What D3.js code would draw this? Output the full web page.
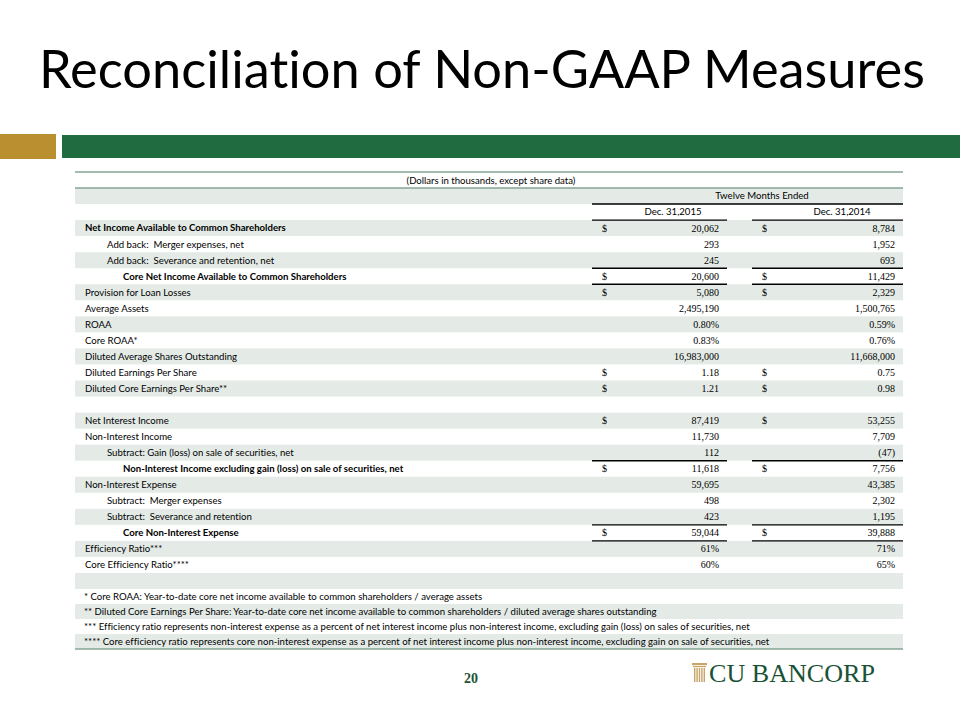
<!DOCTYPE html>
<html>
<head>
<meta charset="utf-8">
<script src="https://cdn.jsdelivr.net/npm/d3@7"></script>
<style>
  body { margin: 0; background: #fff; }
  svg { display: block; }
  text { font-variant-ligatures: none; white-space: pre; }
</style>
</head>
<body>
<div class="svg-mount"></div>
<script>
// table content
const title = "Reconciliation of Non-GAAP Measures";
const unitsNote = "(Dollars in thousands, except share data)";
const periodHeader = "Twelve Months Ended";
const columns = ["Dec. 31,2015", "Dec. 31,2014"];

const rowLabels = [
  "",
  "",
  "Net Income Available to Common Shareholders",
  "Add back:  Merger expenses, net",
  "Add back:  Severance and retention, net",
  "Core Net Income Available to Common Shareholders",
  "Provision for Loan Losses",
  "Average Assets",
  "ROAA",
  "Core ROAA*",
  "Diluted Average Shares Outstanding",
  "Diluted Earnings Per Share",
  "Diluted Core Earnings Per Share**",
  "",
  "Net Interest Income",
  "Non-Interest Income",
  "Subtract: Gain (loss) on sale of securities, net",
  "Non-Interest Income excluding gain (loss) on sale of securities, net",
  "Non-Interest Expense",
  "Subtract:  Merger expenses",
  "Subtract:  Severance and retention",
  "Core Non-Interest Expense",
  "Efficiency Ratio***",
  "Core Efficiency Ratio****",
  "",
];
const values2015 = ["", "", "20,062", "293", "245", "20,600", "5,080", "2,495,190", "0.80%", "0.83%",
  "16,983,000", "1.18", "1.21", "", "87,419", "11,730", "112", "11,618", "59,695", "498", "423",
  "59,044", "61%", "60%", ""];
const values2014 = ["", "", "8,784", "1,952", "693", "11,429", "2,329", "1,500,765", "0.59%", "0.76%",
  "11,668,000", "0.75", "0.98", "", "53,255", "7,709", "(47)", "7,756", "43,385", "2,302", "1,195",
  "39,888", "71%", "65%", ""];
const dollarRows = [2, 5, 6, 11, 12, 14, 17, 21];
const totalRows = [1, 4, 5, 16, 20, 21];

const footnotes = [
  "* Core ROAA: Year-to-date core net income available to common shareholders / average assets",
  "** Diluted Core Earnings Per Share: Year-to-date core net income available to common shareholders / diluted average shares outstanding",
  "*** Efficiency ratio represents non-interest expense as a percent of net interest income plus non-interest income, excluding gain (loss) on sales of securities, net",
  "**** Core efficiency ratio represents core non-interest expense as a percent of net interest income plus non-interest income, excluding gain on sale of securities, net",
];
const pageNumber = "20";
const logoText = "CU BANCORP";

// label layout (indent level, bold)
const rowIndent = [0, 0, 0, 1, 1, 2, 0, 0, 0, 0, 0, 0, 0, 0, 0, 0, 1, 2, 0, 1, 1, 2, 0, 0, 0];
const boldRows = [2, 5, 17, 21];

const width = 960;
const height = 720;
const green = "#206b40";
const dark = "#1a5236";
const shade = "#e4ebe7";
const rule = "#86a596";
const sans = "'Lato', 'Open Sans', sans-serif";
const serif = "'Liberation Serif', 'Times New Roman', serif";
const labelSize = 9.6;

const svg = d3
  .select(".svg-mount")
  .append("svg")
  .attr("width", width)
  .attr("height", height);

// title, fitted to its width on the slide
const titleText = svg
  .append("text")
  .attr("x", 39)
  .attr("y", 88)
  .attr("font-family", "'Lato', sans-serif")
  .attr("font-size", 52)
  .attr("fill", "#000")
  .text(title);
const tw = titleText.node().getComputedTextLength();
titleText.attr("font-size", (52 * 886) / tw);

// header bars
svg.append("rect").attr("x", 0).attr("y", 134).attr("width", 56).attr("height", 25).attr("fill", "#b98f30");
svg.append("rect").attr("x", 62).attr("y", 135).attr("width", 898).attr("height", 23).attr("fill", green);

// scales
const tableLeft = 75;
const tableRight = 903;
const yMain = d3.scaleBand().domain(d3.range(rowLabels.length)).range([188, 589]);
const yFoot = d3.scaleBand().domain(d3.range(footnotes.length)).range([589, 649]);
const xLabel = d3.scaleOrdinal().domain([0, 1, 2]).range([85, 107, 123]);
const colLeft = d3.scaleOrdinal().domain(columns).range([592, 752]);
const colRight = d3.scaleOrdinal().domain(columns).range([727, 903]);
const colHeadX = d3.scaleOrdinal().domain(columns).range([673, 842]);

const g = svg.append("g").attr("class", "table");

// shaded rows (even rows)
g.selectAll("rect.main-shade")
  .data(d3.range(rowLabels.length).filter((i) => i % 2 === 0))
  .join("rect")
  .attr("class", "main-shade")
  .attr("x", tableLeft)
  .attr("y", (i) => yMain(i))
  .attr("width", tableRight - tableLeft)
  .attr("height", yMain.bandwidth())
  .attr("fill", shade);

g.selectAll("rect.foot-shade")
  .data(d3.range(footnotes.length).filter((i) => i % 2 === 1))
  .join("rect")
  .attr("class", "foot-shade")
  .attr("x", tableLeft)
  .attr("y", (i) => yFoot(i))
  .attr("width", tableRight - tableLeft)
  .attr("height", yFoot.bandwidth())
  .attr("fill", shade);

// outer rules
[172, 188, 649].forEach((y) => {
  g.append("line")
    .attr("x1", tableLeft)
    .attr("x2", tableRight)
    .attr("y1", y)
    .attr("y2", y)
    .attr("stroke", rule)
    .attr("stroke-width", 1.5);
});

g.append("text")
  .attr("x", 491)
  .attr("y", 180.5)
  .attr("dy", "0.35em")
  .attr("text-anchor", "middle")
  .attr("font-family", sans)
  .attr("font-size", labelSize)
  .text(unitsNote);

// column headers
g.append("text")
  .attr("x", 762)
  .attr("y", yMain(0) + yMain.bandwidth() / 2)
  .attr("dy", "0.35em")
  .attr("text-anchor", "middle")
  .attr("font-family", sans)
  .attr("font-size", labelSize)
  .text(periodHeader);
g.append("line")
  .attr("x1", colLeft(columns[0]))
  .attr("x2", colRight(columns[1]))
  .attr("y1", yMain(1))
  .attr("y2", yMain(1))
  .attr("stroke", "#000")
  .attr("stroke-width", 1.4);

g.selectAll("text.col-head")
  .data(columns)
  .join("text")
  .attr("class", "col-head")
  .attr("x", (d) => colHeadX(d))
  .attr("y", yMain(1) + yMain.bandwidth() / 2)
  .attr("dy", "0.35em")
  .attr("text-anchor", "middle")
  .attr("font-family", sans)
  .attr("font-size", labelSize)
  .text((d) => d);

// row labels
g.selectAll("text.label")
  .data(rowLabels.map((d, i) => ({ label: d, i })).filter((d) => d.label))
  .join("text")
  .attr("class", "label")
  .attr("x", (d) => xLabel(rowIndent[d.i]))
  .attr("y", (d) => yMain(d.i) + yMain.bandwidth() / 2)
  .attr("dy", "0.35em")
  .attr("font-family", sans)
  .attr("font-size", labelSize)
  .attr("font-weight", (d) => (boldRows.includes(d.i) ? "bold" : "normal"))
  .text((d) => d.label);

// values and dollar signs
const series = [values2015, values2014];
columns.forEach((col, c) => {
  const x0 = colLeft(col);
  const x1 = colRight(col);
  const cells = series[c].map((v, i) => ({ v, i })).filter((d) => d.v);

  g.selectAll(`text.val-${c}`)
    .data(cells)
    .join("text")
    .attr("class", `val-${c}`)
    .attr("x", x1 - 8)
    .attr("y", (d) => yMain(d.i) + yMain.bandwidth() / 2)
    .attr("dy", "0.35em")
    .attr("text-anchor", "end")
    .attr("font-family", serif)
    .attr("font-size", 10)
    .text((d) => d.v);

  g.selectAll(`text.dollar-${c}`)
    .data(dollarRows)
    .join("text")
    .attr("class", `dollar-${c}`)
    .attr("x", x0 + 10)
    .attr("y", (i) => yMain(i) + yMain.bandwidth() / 2)
    .attr("dy", "0.35em")
    .attr("font-family", serif)
    .attr("font-size", 10)
    .text("$");

  g.selectAll(`line.total-${c}`)
    .data(totalRows)
    .join("line")
    .attr("class", `total-${c}`)
    .attr("x1", x0)
    .attr("x2", x1)
    .attr("y1", (i) => yMain(i) + yMain.bandwidth())
    .attr("y2", (i) => yMain(i) + yMain.bandwidth())
    .attr("stroke", "#000")
    .attr("stroke-width", 1.4);
});

// footnotes
g.selectAll("text.foot")
  .data(footnotes)
  .join("text")
  .attr("class", "foot")
  .attr("x", 84)
  .attr("y", (d, i) => yFoot(i) + yFoot.bandwidth() / 2)
  .attr("dy", "0.35em")
  .attr("font-family", sans)
  .attr("font-size", labelSize)
  .text((d) => d);

// page number
svg.append("text")
  .attr("x", 471)
  .attr("y", 683)
  .attr("text-anchor", "middle")
  .attr("font-family", serif)
  .attr("font-weight", "bold")
  .attr("font-size", 14)
  .attr("fill", dark)
  .text(pageNumber);

// logo: gold column + name
const logo = svg.append("g").attr("transform", "translate(692,663)");
const gold = "#c9a467";
logo.append("rect").attr("x", 0).attr("y", 0).attr("width", 15).attr("height", 2.2).attr("fill", gold);
logo.append("rect").attr("x", 1).attr("y", 3).attr("width", 13).attr("height", 1.2).attr("fill", gold);
logo.selectAll("rect.flute")
  .data(d3.range(5))
  .join("rect")
  .attr("class", "flute")
  .attr("x", (d) => 2 + d * 2.4)
  .attr("y", 5)
  .attr("width", 1.4)
  .attr("height", 14)
  .attr("fill", gold);
const logoName = logo.append("text")
  .attr("x", 17)
  .attr("y", 19)
  .attr("font-family", serif)
  .attr("font-size", 25)
  .attr("fill", dark)
  .text(logoText);
const lw = logoName.node().getComputedTextLength();
logoName.attr("font-size", (25 * 166) / lw);
</script>
</body>
</html>
